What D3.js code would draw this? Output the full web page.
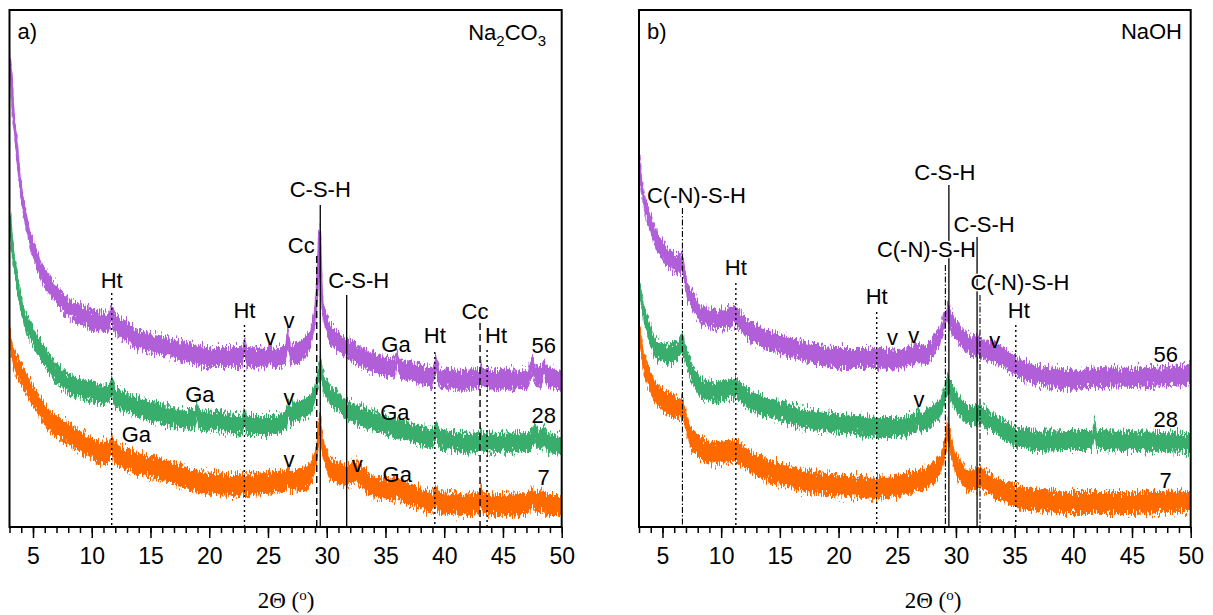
<!DOCTYPE html>
<html>
<head>
<meta charset="utf-8">
<script src="https://cdn.jsdelivr.net/npm/d3@7"></script>
<style>
    body { margin: 0; background: #fff; }
    svg { display: block; font-family: "Liberation Sans", Arial, sans-serif; }
</style>
</head>
<body>
<div id="chart"></div>
<script>
// ---- data ----
const angleDomain = [3, 50];
const intensityDomain = [0, 517];
const majorTicks = [5, 10, 15, 20, 25, 30, 35, 40, 45, 50];
const minorTicks = d3.range(3, 51, 1);
const sampleAges = ["56", "28", "7"];
const seriesColors = ["#b15fd9", "#38ad6c", "#ff6a00"];
const noiseHalfWidth = [10, 10, 11];

// Na2CO3 patterns [2theta, intensity]
const naCarb56 = [[3.0,468],[3.13,454],[3.32,412],[3.55,387],[3.81,354],[4.17,320],[4.74,287],[5.74,254],[7.0,232],[7.9,220],[10.0,207],[11.4,204],[11.7,214],[12.0,203],[13.9,187],[16.8,179],[19.6,170],[22.8,170],[23.0,182],[23.2,170],[25.0,169],[25.2,176],[25.4,169],[26.5,172],[26.7,192],[26.9,172],[27.7,175],[28.6,187],[29.0,210],[29.2,240],[29.4,296],[29.55,232],[29.7,215],[30.3,192],[31.7,179],[33.7,165],[35.8,158],[36.0,170],[36.2,158],[39.0,149],[39.3,162],[39.6,149],[41.6,147],[43.0,148],[43.1,155],[43.3,148],[44.5,147],[47.1,148],[47.5,162],[47.8,151],[48.3,150],[48.5,160],[48.8,150],[50.0,147]];
const naCarb28 = [[3.0,312],[3.3,272],[3.75,237],[4.3,207],[5.4,181],[6.9,154],[8.3,141],[11.1,131],[11.4,133],[11.7,142],[12.0,130],[14.0,119],[16.8,110],[18.8,107],[18.95,122],[19.1,107],[20.6,106],[22.8,102],[23.0,110],[23.2,102],[25.8,102],[26.6,108],[26.75,120],[26.9,110],[27.1,114],[28.6,120],[29.0,134],[29.3,150],[29.5,163],[29.7,144],[30.3,132],[31.7,117],[33.7,107],[36.0,99],[39.0,88],[39.3,97],[39.6,88],[41.6,84],[43.0,85],[43.1,92],[43.3,85],[44.5,84],[47.3,85],[47.7,96],[48.0,86],[48.5,91],[48.8,84],[49.9,82],[50.0,82]];
const naCarb7 = [[3.0,193],[3.3,169],[3.9,155],[5.0,131],[6.45,105],[7.9,94],[10.7,74],[11.5,76],[11.7,84],[11.9,74],[13.6,64],[16.4,56],[19.2,44],[22.0,42],[24.9,44],[26.5,46],[26.7,52],[26.9,46],[27.7,47],[28.6,52],[29.0,65],[29.2,80],[29.4,108],[29.55,90],[29.7,77],[30.3,57],[31.7,51],[32.5,56],[33.7,41],[35.8,37],[36.0,41],[36.2,37],[39.0,24],[39.3,32],[39.6,24],[41.6,22],[43.0,24],[43.1,32],[43.3,24],[44.5,22],[47.1,23],[47.5,30],[47.9,24],[48.4,27],[48.8,22],[49.9,22],[50.0,22]];

// NaOH patterns [2theta, intensity]
const naOH56 = [[3.0,370],[3.2,342],[3.5,322],[4.0,302],[4.5,287],[5.4,270],[6.2,262],[6.7,266],[7.1,236],[8.3,212],[9.6,207],[10.5,208],[11.2,212],[12.0,200],[12.5,195],[13.9,187],[16.8,177],[19.4,169],[23.3,169],[25.2,167],[26.5,173],[27.5,172],[28.6,190],[29.0,205],[29.3,216],[29.6,205],[30.1,195],[30.9,184],[32.05,179],[33.8,172],[35.2,159],[36.9,152],[39.5,147],[42.3,150],[45.1,149],[49.7,152],[50.0,156]];
const naOH28 = [[3.0,242],[3.4,214],[4.3,179],[5.4,172],[6.3,176],[6.7,185],[7.0,172],[7.4,157],[8.3,138],[9.6,135],[11.3,139],[12.5,125],[13.9,120],[16.8,109],[19.4,104],[23.3,100],[25.2,100],[26.6,104],[26.8,112],[27.0,104],[27.5,107],[28.6,117],[29.0,130],[29.3,143],[29.6,135],[30.1,124],[30.9,112],[31.8,112],[32.05,113],[33.8,99],[35.2,90],[36.9,86],[39.5,87],[41.6,87],[41.8,99],[42.0,87],[45.1,86],[49.7,84],[50.0,84]];
const naOH7 = [[3.0,197],[3.4,164],[4.3,135],[5.4,124],[6.3,118],[6.7,120],[7.0,106],[7.4,88],[8.3,78],[9.6,73],[11.3,77],[12.5,64],[13.9,57],[16.8,47],[19.4,42],[23.3,39],[25.5,42],[27.5,49],[28.6,60],[29.0,75],[29.3,98],[29.6,80],[29.9,65],[30.9,46],[32.05,49],[33.8,36],[35.2,30],[36.6,27],[39.5,24],[45.1,24],[49.7,26],[50.0,26]];

// phase reference lines [phase, 2theta, top intensity, label]
const naCarbMarkers = [["Ht",11.7,234,"Ht"],["Ht",23.0,202,"Ht"],["CSH",29.45,322,"C-S-H"],["Cc",29.15,271,"Cc"],["CSH",31.7,232,"C-S-H"],["Ht",39.2,175,"Ht"],["Cc",43.05,204,"Cc"],["Ht",43.65,177,"Ht"]];
const naOHMarkers = [["CNSH",6.7,319,"C(-N)-S-H"],["Ht",11.25,244,"Ht"],["Ht",23.25,215,"Ht"],["CSH",29.4,342,"C-S-H"],["CNSH",29.1,262,"C(-N)-S-H"],["CSH",31.8,290,"C-S-H"],["CNSH",32.05,232,"C(-N)-S-H"],["Ht",35.1,202,"Ht"]];

// minor phase notes [text, 2theta, intensity]
const naCarbNotes = [["v",25.2,182],["v",26.8,199],["v",26.8,122],["v",26.8,60],["v",32.6,55],["Ga",35.9,175],["Ga",35.8,107],["Ga",36.0,45],["Ga",19.2,125],["Ga",13.8,85]];
const naOHNotes = [["v",24.6,182],["v",26.4,184],["v",33.3,179],["v",26.85,120]];

// sample age labels sit at these intensities
const naCarbAgeLevels = [174, 104, 42];
const naOHAgeLevels = [165, 100, 39];

// ---- layout ----
const width = 1213, height = 615;
const plotTop = 10, plotBottom = 527;

const markerStyle = {
    Ht:   { dash: "2,3",       width: 1.4 },
    Cc:   { dash: "7,4",       width: 1.4 },
    CSH:  { dash: null,        width: 1.3 },
    CNSH: { dash: "6,2,1.5,2", width: 1.1 }
};

const panels = [
    {
        left: 9.5, right: 561.7, tag: "a)",
        series: [naCarb56, naCarb28, naCarb7],
        markers: naCarbMarkers,
        labelOffsets: [[0,5],[0,7],[0,8],[-2,3,"end"],[12,7],[0,9],[-5,4],[9,7]],
        notes: naCarbNotes,
        ageLevels: naCarbAgeLevels, ageX: 18,
        titleX: 286
    },
    {
        left: 639, right: 1190.7, tag: "b)",
        series: [naOH56, naOH28, naOH7],
        markers: naOHMarkers,
        labelOffsets: [[14,5],[0,8],[0,8],[-4,5],[-19,8],[7,5],[40,5],[3,7]],
        notes: naOHNotes,
        ageLevels: naOHAgeLevels, ageX: 25,
        titleX: 933
    }
];

const svg = d3.select("#chart").append("svg")
    .attr("width", width)
    .attr("height", height);

const defs = svg.append("defs");

// rough edge texture for the noisy scans
const grain = defs.append("filter")
    .attr("id", "grain")
    .attr("x", "-2%").attr("y", "-20%")
    .attr("width", "104%").attr("height", "140%")
    .attr("color-interpolation-filters", "sRGB");
grain.append("feTurbulence")
    .attr("type", "fractalNoise")
    .attr("baseFrequency", "0.8 0.15")
    .attr("numOctaves", 2)
    .attr("seed", 4)
    .attr("result", "t");
grain.append("feColorMatrix")
    .attr("in", "t")
    .attr("type", "matrix")
    .attr("values", "0 0 0 0 0.5  0 1 0 0 0  0 0 0 0 0  0 0 0 0 1")
    .attr("result", "m");
grain.append("feDisplacementMap")
    .attr("in", "SourceGraphic")
    .attr("in2", "m")
    .attr("scale", 18)
    .attr("xChannelSelector", "R")
    .attr("yChannelSelector", "G");

panels.forEach((p, pi) => {

    const xScale = d3.scaleLinear().domain(angleDomain).range([p.left, p.right]);
    const yScale = d3.scaleLinear().domain(intensityDomain).range([plotBottom, plotTop]);

    defs.append("clipPath").attr("id", "clip" + pi)
        .append("rect")
        .attr("x", p.left).attr("y", plotTop)
        .attr("width", p.right - p.left).attr("height", plotBottom - plotTop);

    const plot = svg.append("g").attr("clip-path", `url(#clip${pi})`);

    // scans
    p.series.forEach((data, si) => {
        const amp = noiseHalfWidth[si];
        const band = d3.area()
            .x(d => xScale(d[0]))
            .y0(d => yScale(d[1] - amp))
            .y1(d => yScale(d[1] + amp));
        const mid = d3.line()
            .x(d => xScale(d[0]))
            .y(d => yScale(d[1]));

        const g = plot.append("g").attr("filter", "url(#grain)");
        g.append("path")
            .datum(data)
            .attr("d", band)
            .style("fill", seriesColors[si]);
        g.append("path")
            .datum(data)
            .attr("d", mid)
            .style("fill", "none")
            .style("stroke", seriesColors[si])
            .style("stroke-width", 3);
    });

    // reference lines
    p.markers.forEach(m => {
        const st = markerStyle[m[0]];
        plot.append("line")
            .attr("x1", xScale(m[1])).attr("x2", xScale(m[1]))
            .attr("y1", yScale(m[2])).attr("y2", plotBottom)
            .style("stroke", "#000")
            .style("stroke-width", st.width)
            .style("stroke-dasharray", st.dash);
    });

    // marker labels
    p.markers.forEach((m, i) => {
        const off = p.labelOffsets[i];
        svg.append("text")
            .attr("x", xScale(m[1]) + off[0])
            .attr("y", yScale(m[2]) - off[1])
            .attr("text-anchor", off[2] || "middle")
            .style("font-size", "22px")
            .style("fill", "#000")
            .style("stroke", "#fff")
            .style("stroke-width", 3)
            .style("paint-order", "stroke")
            .text(m[3]);
    });

    // v / Ga notes
    p.notes.forEach(n => {
        svg.append("text")
            .attr("x", xScale(n[1]))
            .attr("y", yScale(n[2]))
            .attr("text-anchor", "middle")
            .style("font-size", "22px")
            .style("fill", "#000")
            .text(n[0]);
    });

    // sample ages
    p.ageLevels.forEach((lv, i) => {
        svg.append("text")
            .attr("x", p.right - p.ageX)
            .attr("y", yScale(lv))
            .attr("text-anchor", "middle")
            .style("font-size", "22px")
            .text(sampleAges[i]);
    });

    // x axis
    const axisMinor = d3.axisBottom(xScale).tickValues(minorTicks).tickSize(6).tickFormat("");
    const axisMajor = d3.axisBottom(xScale).tickValues(majorTicks).tickSize(11).tickPadding(10).tickFormat(d3.format("d"));

    svg.append("g")
        .attr("transform", `translate(0,${plotBottom})`)
        .call(axisMinor)
        .call(g => g.select(".domain").remove())
        .call(g => g.selectAll("line").style("stroke", "#000").style("stroke-width", 1.5));

    svg.append("g")
        .attr("transform", `translate(0,${plotBottom})`)
        .call(axisMajor)
        .call(g => g.select(".domain").remove())
        .call(g => g.selectAll("line").style("stroke", "#000").style("stroke-width", 1.5))
        .call(g => g.selectAll("text")
            .style("font-family", "\"Liberation Sans\", Arial, sans-serif")
            .style("font-size", "23px")
            .style("fill", "#000"));

    // frame
    svg.append("rect")
        .attr("x", p.left).attr("y", plotTop)
        .attr("width", p.right - p.left).attr("height", plotBottom - plotTop)
        .style("fill", "none")
        .style("stroke", "#000")
        .style("stroke-width", 2);

    // panel tag
    svg.append("text")
        .attr("x", p.left + 8)
        .attr("y", plotTop + 29)
        .style("font-size", "22px")
        .text(p.tag);

    // axis title
    const title = svg.append("text")
        .attr("x", p.titleX)
        .attr("y", 608)
        .attr("text-anchor", "middle")
        .style("font-family", "\"Liberation Serif\", \"Times New Roman\", serif")
        .style("font-size", "23px");
    title.append("tspan").text("2\u0398 (");
    title.append("tspan").attr("dy", -8).style("font-size", "15px").text("o");
    title.append("tspan").attr("dy", 8).text(")");
});

// alkali labels
const naLabel = svg.append("text")
    .attr("x", 546).attr("y", 40)
    .attr("text-anchor", "end")
    .style("font-size", "22px");
naLabel.append("tspan").text("Na");
naLabel.append("tspan").attr("dy", 6).style("font-size", "15px").text("2");
naLabel.append("tspan").attr("dy", -6).text("CO");
naLabel.append("tspan").attr("dy", 6).style("font-size", "15px").text("3");

svg.append("text")
    .attr("x", 1182).attr("y", 39)
    .attr("text-anchor", "end")
    .style("font-size", "22px")
    .text("NaOH");
</script>
</body>
</html>
